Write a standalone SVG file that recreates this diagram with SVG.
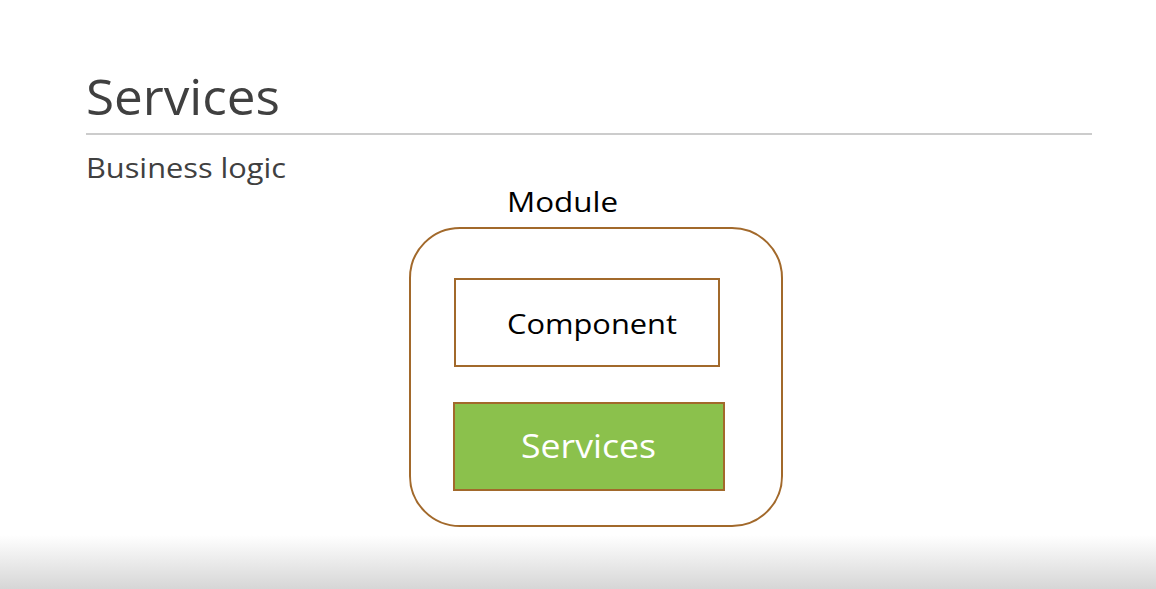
<svg xmlns="http://www.w3.org/2000/svg" width="1156" height="589" viewBox="0 0 1156 589">
<defs>
<linearGradient id="shade" x1="0" y1="0" x2="0" y2="1">
<stop offset="0" stop-color="#ffffff"/>
<stop offset="1" stop-color="#d6d6d6"/>
</linearGradient>
<style>
.t{font-family:"Open Sans","Noto Sans","Liberation Sans",sans-serif}
.box{stroke:#a2692b;stroke-width:2}
</style>
</defs>
<rect x="0" y="0" width="1156" height="589" fill="#ffffff"/>
<rect x="0" y="535" width="1156" height="54" fill="url(#shade)"/>
<text class="t" x="86" y="115" font-size="50" fill="#404040" textLength="194" lengthAdjust="spacingAndGlyphs">Services</text>
<line x1="86" y1="134" x2="1092" y2="134" stroke="#9a9a9a" stroke-width="1.2"/>
<text class="t" x="86" y="178" font-size="28" fill="#404040" textLength="200" lengthAdjust="spacingAndGlyphs">Business logic</text>
<g id="module">
<text class="t" x="507" y="212" font-size="28" fill="#000000" textLength="111" lengthAdjust="spacingAndGlyphs">Module</text>
<rect class="box" x="410" y="228" width="372" height="298" rx="50" ry="50" fill="#ffffff"/>
</g>
<g id="component">
<rect class="box" x="455" y="279" width="264" height="87" fill="#ffffff"/>
<text class="t" x="507" y="334" font-size="28" fill="#000000" textLength="170" lengthAdjust="spacingAndGlyphs">Component</text>
</g>
<g id="services">
<rect class="box" x="454" y="403" width="270" height="87" fill="#8bc14c"/>
<text class="t" x="521" y="458" font-size="32" fill="#ffffff" textLength="135" lengthAdjust="spacingAndGlyphs">Services</text>
</g>
<g id="connectors"/>
</svg>
